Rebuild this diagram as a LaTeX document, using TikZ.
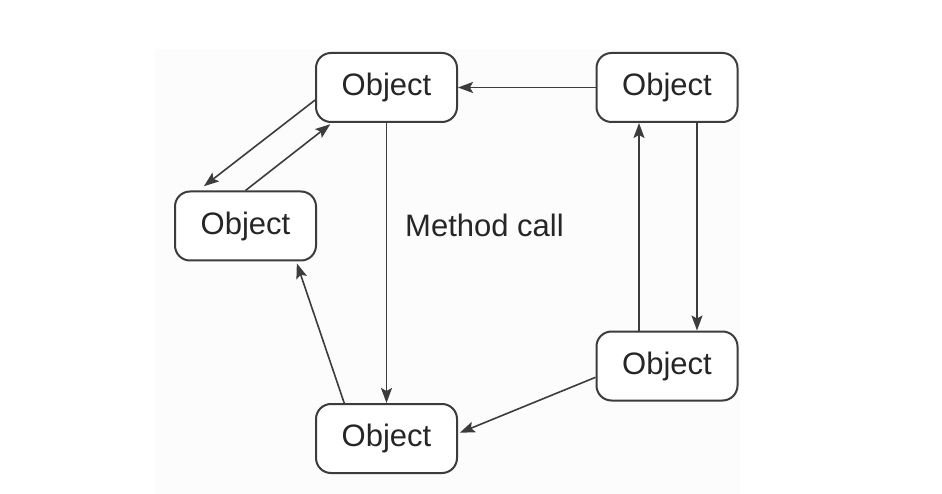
\documentclass[tikz,border=0pt]{standalone}
\usepackage{fontspec}
\setmainfont{Liberation Sans}
\usetikzlibrary{arrows.meta}
\definecolor{inkline}{HTML}{3C3C3C}
\definecolor{inktext}{HTML}{262626}
\definecolor{paper}{HTML}{FCFCFC}
\begin{document}
\begin{tikzpicture}[x=1pt,y=-1pt,
  objbox/.style={draw=inkline, line width=2pt, rounded corners=15pt, fill=white,
    minimum width=141pt, minimum height=69pt, inner sep=0pt,
    text=inktext, font=\fontsize{31}{37}\selectfont},
  call/.style={draw=inkline, line width=1.6pt,
    -{Stealth[length=15pt,width=11pt,inset=3pt]}},
  lbl/.style={text=inktext, font=\fontsize{31}{37}\selectfont, inner sep=0pt}]
  % canvas and faint backdrop
  \useasboundingbox (0,0) rectangle (942,494);
  \fill[white] (0,0) rectangle (942,494);
  \fill[paper] (155,49) rectangle (740,494);

  % objects
  \node[objbox] (top)   at (386.5,87.5)  {Object};
  \node[objbox] (right) at (667,87.5)    {Object};
  \node[objbox] (left)  at (245.5,226)   {Object};
  \node[objbox] (lowr)  at (667,366)     {Object};
  \node[objbox] (low)   at (386.5,438.5) {Object};

  \node[lbl, anchor=west] (mc) at (405,225) {Method call};

  % method calls
  \draw[call] (right.west) -- (top.east);
  \draw[call, shorten >=7pt] (top.190) -- (left.143);
  \draw[call, shorten >=2pt] (left.north) -- (top.213);
  \draw[call] (top.south) -- (low.north);
  \draw[call, shorten >=2pt] (low.140) -- (left.325);
  \draw[call] ([xshift=-28pt]lowr.north) -- ([xshift=-28pt]right.south);
  \draw[call] ([xshift=30pt]right.south) -- ([xshift=30pt]lowr.north);
  \draw[call, shorten >=2pt] (lowr.189) -- (low.4);
\end{tikzpicture}
\end{document}
